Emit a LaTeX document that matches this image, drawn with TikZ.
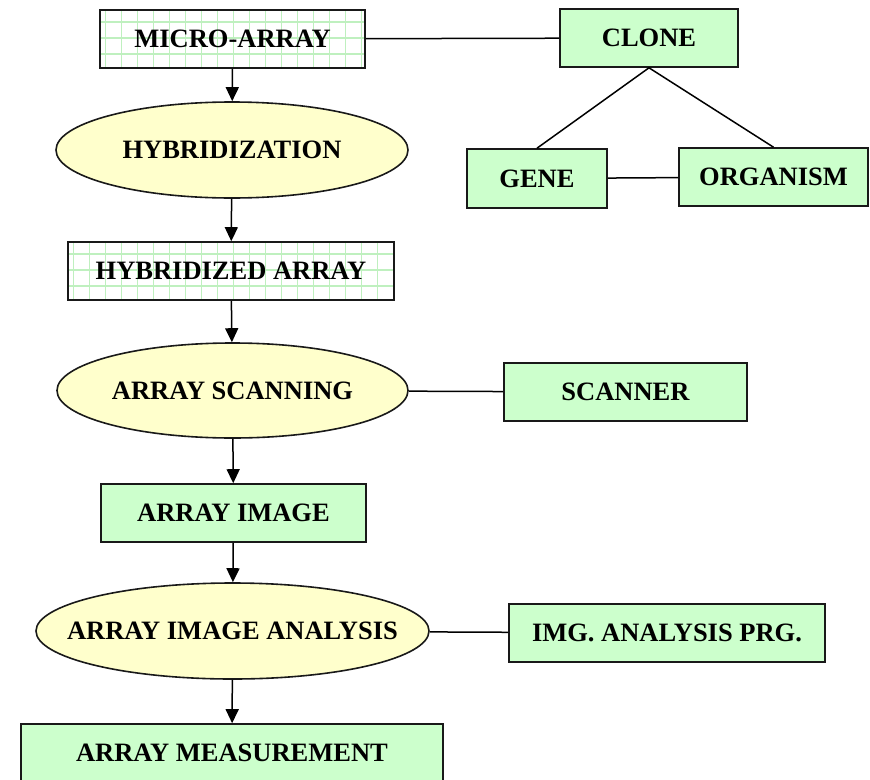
\documentclass[tikz,border=0pt]{standalone}
\usepackage{fontspec}
\setmainfont{Liberation Serif}
\usetikzlibrary{shapes.geometric,arrows.meta}

\definecolor{boxgreen}{HTML}{CCFFCC}
\definecolor{ovalyellow}{HTML}{FFFFCC}
\definecolor{gridgreen}{HTML}{BFF0BF}

% text inside an oval takes no width, so the oval keeps its given size
\newcommand\ovaltext[1]{\makebox[0pt]{#1}}

\tikzset{
  base/.style={draw=black!90, line width=1.6pt, inner sep=0pt,
    font=\bfseries\fontsize{26.5}{30}\selectfont},
  greenbox/.style={base, rectangle, fill=boxgreen},
  gridbox/.style={base, rectangle, fill=white,
    path picture={
      \foreach \i in {0,...,24}
        \draw[gridgreen, line width=1.4pt]
          ([xshift=\i*16pt+5.5pt]path picture bounding box.north west) -- ++(0pt,-80pt);
      \foreach \j in {0,...,4}
        \draw[gridgreen, line width=1.4pt]
          ([yshift=-\j*16pt-12pt]path picture bounding box.north west) -- ++(420pt,0pt);
    }},
  oval/.style={base, ellipse, fill=ovalyellow},
  link/.style={line width=1.5pt, draw=black},
  flow/.style={link, -{Triangle[length=14pt,width=13pt]}},
}

\begin{document}
\begin{tikzpicture}[x=1pt, y=-1pt]
\useasboundingbox (0,0) rectangle (870,779);

% main process chain
\node[gridbox, minimum width=265pt, minimum height=58pt] (ma) at (232.5,39) {MICRO-ARRAY};
\node[oval, minimum width=352pt, minimum height=96pt] (hyb) at (232,150) {\ovaltext{HYBRIDIZATION}};
\node[gridbox, minimum width=326pt, minimum height=58pt] (ha) at (231,271) {HYBRIDIZED ARRAY};
\node[oval, minimum width=351pt, minimum height=95pt] (scan) at (232.5,390.5) {\ovaltext{ARRAY SCANNING}};
\node[greenbox, minimum width=265pt, minimum height=58pt] (ai) at (233.5,513) {ARRAY IMAGE};
\node[oval, minimum width=393pt, minimum height=96pt] (aia) at (232.5,631) {\ovaltext{ARRAY IMAGE ANALYSIS}};
\node[greenbox, minimum width=422pt, minimum height=58pt] (am) at (232,753) {ARRAY MEASUREMENT};

% side resources
\node[greenbox, minimum width=178pt, minimum height=58pt] (clone) at (649,38) {CLONE};
\node[greenbox, minimum width=140pt, minimum height=59pt] (gene) at (537,178.5) {GENE};
\node[greenbox, minimum width=189pt, minimum height=58pt] (org) at (773.5,177) {ORGANISM};
\node[greenbox, minimum width=243pt, minimum height=58pt] (scanner) at (625.5,392) {SCANNER};
\node[greenbox, minimum width=316pt, minimum height=58pt] (prg) at (667,633) {IMG. ANALYSIS PRG.};

% flow arrows
\draw[flow] (ma) -- (hyb);
\draw[flow] (hyb) -- (ha);
\draw[flow] (ha) -- (scan);
\draw[flow] (scan) -- (ai);
\draw[flow] (ai) -- (aia);
\draw[flow] (aia) -- (am);

% plain links
\draw[link] (ma) -- (clone);
\draw[link] (clone.south) -- (gene.north);
\draw[link] (clone.south) -- (org.north);
\draw[link] (gene) -- (org);
\draw[link] (scan) -- (scanner);
\draw[link] (aia) -- (prg);
\end{tikzpicture}
\end{document}
